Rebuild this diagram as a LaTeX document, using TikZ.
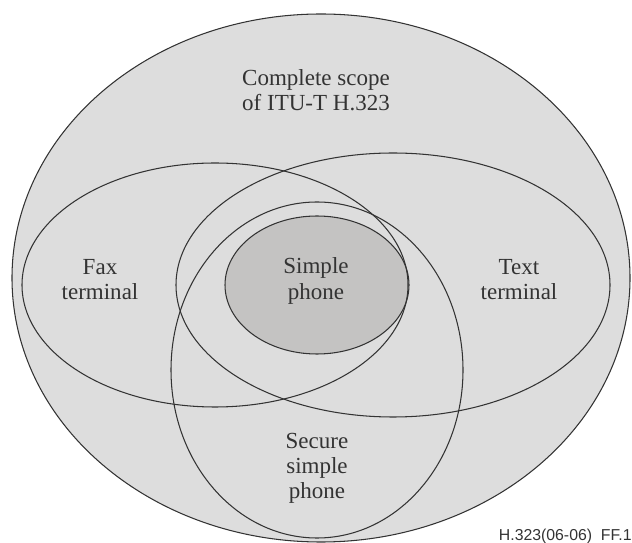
\documentclass[tikz,border=0pt]{standalone}
\usepackage{fontspec}
\setmainfont{Liberation Serif}
\newfontfamily\footfont{Liberation Sans}
\usetikzlibrary{positioning}
\definecolor{scopeGray}{HTML}{DDDDDD}
\definecolor{phoneGray}{HTML}{C4C3C2}
\definecolor{lineGray}{HTML}{333333}

\begin{document}
\begin{tikzpicture}[x=0.02cm,y=-0.02cm,
    outline/.style={draw=lineGray,line width=0.6pt},
    lbl/.style={align=center,text=lineGray,inner sep=0pt,
      font=\fontsize{13.1}{14.3}\selectfont}]
    \useasboundingbox (0,0) rectangle (632,543);
    % filled areas
    \fill[scopeGray] (321,278) ellipse [x radius=309, y radius=264];
    \fill[phoneGray] (317,285) ellipse [x radius=92, y radius=69];
    % outlines
    \draw[outline] (321,278) ellipse [x radius=309, y radius=264];
    \draw[outline] (215,285) ellipse [x radius=193, y radius=122];
    \draw[outline] (393,285) ellipse [x radius=217, y radius=132];
    \draw[outline] (317,370) ellipse [x radius=146, y radius=168];
    \draw[outline] (317,285) ellipse [x radius=92, y radius=69];
    % labels
    \node[lbl] (scope) at (316,90) {Complete scope\\of ITU-T H.323};
    \node[lbl] (fax) at (100,280) {Fax\\terminal};
    \node[lbl] (text) at (519,280) {Text\\terminal};
    \node[lbl] (simple) at (316,281) {Simple\\phone};
    \node[lbl] (secure) at (317,468) {Secure\\simple\\phone};
    \node[anchor=east,inner sep=0pt,text=lineGray,
      font=\footfont\fontsize{9}{10}\selectfont] (fig) at (632,536) {H.323(06-06)\ \ FF.1};
  \end{tikzpicture}
\end{document}
